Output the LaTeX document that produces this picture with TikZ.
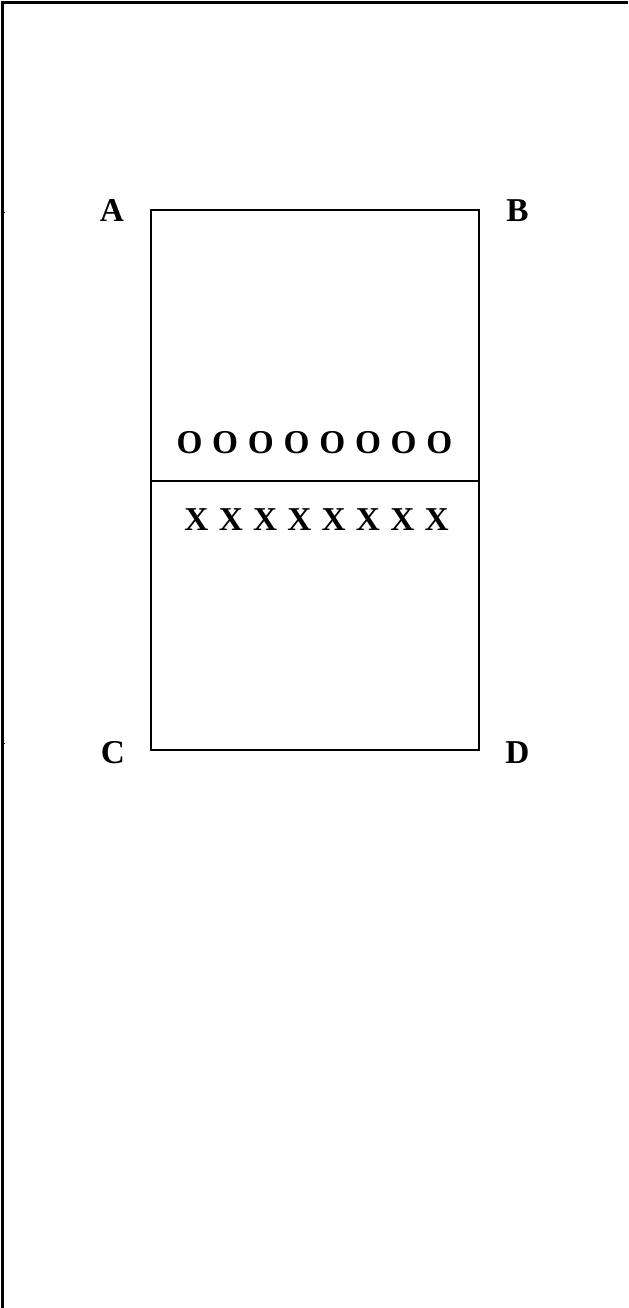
\documentclass[tikz,border=0pt]{standalone}
\usepackage{fontspec}
\setmainfont{Liberation Serif}
\usepackage{tikz}

\begin{document}
\begin{tikzpicture}[
  x=0.75pt, y=-0.75pt,
  frame/.style   = {line width=2pt, black},
  court/.style   = {line width=1.5pt, black},
  corner/.style  = {font=\fontsize{25}{29}\selectfont\bfseries, inner sep=0pt},
  player/.style  = {font=\fontsize{25}{29}\selectfont\bfseries, inner sep=0pt},
]
\useasboundingbox (0,0) rectangle (628,1308);

%% -- Page frame ---------------------------------------------------------------
\coordinate (TL) at (2.4,2.8);
\coordinate (TR) at (628,2.8);
\coordinate (BL) at (2.4,1308);
\draw[frame] (TR) -- (TL) -- (BL);
\coordinate (t1) at (5,213);
\coordinate (t2) at (5,743);
\draw[line width=0.75pt] (TL |- t1) -- (t1);
\draw[line width=0.75pt] (TL |- t2) -- (t2);

%% -- Court --------------------------------------------------------------------
\coordinate (cA) at (151,210);
\coordinate (cD) at (479,750);
\coordinate (mL) at (151,481);
\coordinate (mR) at (479,481);
\draw[court] (cA) rectangle (cD);
\draw[court] (mL) -- (mR);

%% -- Corner labels ------------------------------------------------------------
\node[corner] (A) at (112,211)   {A};
\node[corner] (B) at (517.5,211) {B};
\node[corner] (C) at (113,753)   {C};
\node[corner] (D) at (517.5,753) {D};

%% -- Teams --------------------------------------------------------------------
\foreach \i in {0,...,7}
  \node[player] (o\i) at (189.5+35.7*\i,443) {O};
\foreach \i in {0,...,7}
  \node[player] (x\i) at (196.5+34.3*\i,520) {X};

\end{tikzpicture}
\end{document}
